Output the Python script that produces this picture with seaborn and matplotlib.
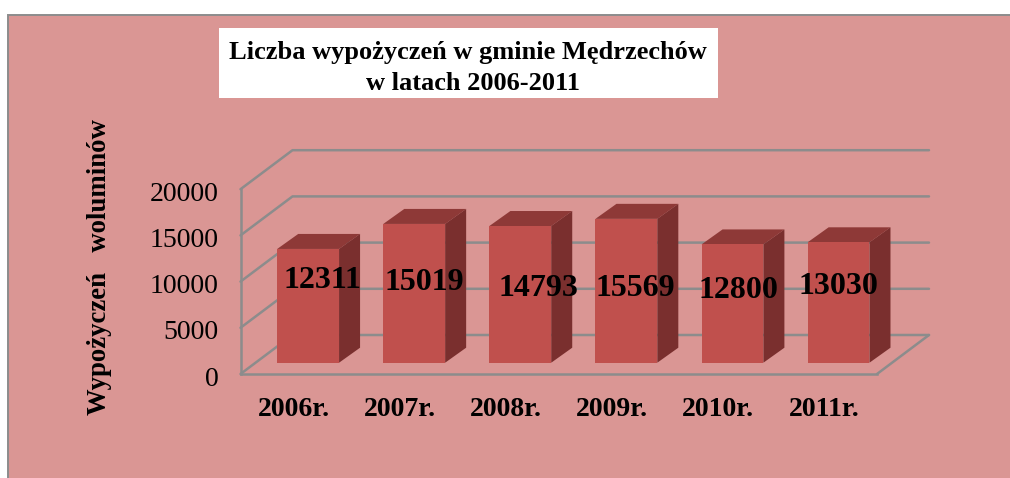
import matplotlib
matplotlib.use("Agg")
import matplotlib.pyplot as plt
import pandas as pd
import seaborn as sns
from matplotlib.lines import Line2D
from matplotlib.patches import Polygon, Rectangle
from matplotlib.transforms import Affine2D, IdentityTransform

# data
years = ["2006r.", "2007r.", "2008r.", "2009r.", "2010r.", "2011r."]
loans = [12311, 15019, 14793, 15569, 12800, 13030]
y_ticks = [0, 5000, 10000, 15000, 20000]
title_lines = ["Liczba wypożyczeń w gminie Mędrzechów", "w latach 2006-2011"]
y_label = "Wypożyczeń   woluminów"

# layout (pixels)
W, H = 1010, 478
BG, FRONT, TOP, SIDE, GRID = "#DA9694", "#C0504D", "#8E3937", "#7A2F2E", "#8C8C8C"
WALL_DX, WALL_DY = 52, 39
BAR_DX, BAR_DY = 14.6, 11.3
DEPTH_DX, DEPTH_DY = 21, 15
LABEL_PIX = [(322, 280), (424, 283), (538, 288), (635, 288), (738, 290), (838, 287)]
TITLE_PIX = [(468, 52), (473, 83)]

sns.set_theme(style="white")
plt.rcParams["font.family"] = ["Liberation Serif", "DejaVu Serif"]

fig = plt.figure(figsize=(W / 100, H / 100), dpi=100, facecolor="white")
fx = lambda x: x / W
fy = lambda y: 1 - y / H

fig.add_artist(Rectangle((fx(8), -0.05), 1.1, fy(14.5) + 0.05, transform=fig.transFigure,
                         facecolor=BG, edgecolor=GRID, linewidth=1.4, zorder=-5))
fig.add_artist(Rectangle((fx(219), fy(98)), fx(499), fy(28) - fy(98), transform=fig.transFigure,
                         facecolor="white", edgecolor="none", zorder=-4))
for line, (px, py) in zip(title_lines, TITLE_PIX):
    fig.text(fx(px), fy(py), line, ha="center", va="center", fontsize=19,
             fontweight="bold", color="black")

ax = fig.add_axes([fx(240.5), fy(374), fx(636.5), fy(189.2) - fy(374)])
ax.patch.set_alpha(0)

df = pd.DataFrame({"year": years, "loans": loans})
sns.barplot(data=df, x="year", y="loans", color=FRONT, saturation=1, width=0.583, ax=ax, zorder=5)
ax.set_xlim(-0.5, 5.5)
ax.set_ylim(0, 20000)
ax.set_yticks(y_ticks)
ax.set_xlabel("")
ax.set_ylabel(y_label, fontsize=19.3, fontweight="bold", color="black", labelpad=0)
ax.yaxis.set_label_coords(fx(112), fy(267), transform=fig.transFigure)
ax.tick_params(axis="y", length=0, pad=16, labelsize=20, labelcolor="black")
ax.tick_params(axis="x", length=0, pad=16.5, labelsize=20, labelcolor="black")
for t in ax.get_xticklabels():
    t.set_fontweight("bold")
for t in ax.get_yticklabels():
    t.set_transform(t.get_transform() + Affine2D().translate(0, -2))
for s in ("top", "right"):
    ax.spines[s].set_visible(False)
for s in ("left", "bottom"):
    ax.spines[s].set_color(GRID)
    ax.spines[s].set_linewidth(1.8)

fig.canvas.draw()
ident = IdentityTransform()

# back wall and floor, projected from the axis scales
x_left, x_right = ax.get_xlim()
for v in y_ticks:
    bx, by = ax.transData.transform((x_left, v))
    ex, _ = ax.transData.transform((x_right, v))
    ax.add_line(Line2D([bx, bx + WALL_DX, ex + WALL_DX], [by, by + WALL_DY, by + WALL_DY],
                       transform=ident, color=GRID, lw=1.8, clip_on=False, zorder=1,
                       solid_joinstyle="round"))
fx0, fy0 = ax.transData.transform((x_right, 0))
ax.add_line(Line2D([fx0, fx0 + WALL_DX], [fy0, fy0 + WALL_DY], transform=ident,
                   color=GRID, lw=1.8, clip_on=False, zorder=1))

# bars: seaborn front faces shifted into the floor, with top and side faces
shift = ax.transData + Affine2D().translate(BAR_DX, BAR_DY)
for bar in ax.containers[0]:
    bar.set_transform(shift)
    bar.set_clip_on(False)
    bar.set_edgecolor("none")
    x0, x1 = bar.get_x(), bar.get_x() + bar.get_width()
    (ax0, ay0), (ax1, ay1) = shift.transform([(x0, 0), (x1, bar.get_height())])
    top = [(ax0, ay1), (ax1, ay1), (ax1 + DEPTH_DX, ay1 + DEPTH_DY), (ax0 + DEPTH_DX, ay1 + DEPTH_DY)]
    side = [(ax1, ay0), (ax1, ay1), (ax1 + DEPTH_DX, ay1 + DEPTH_DY), (ax1 + DEPTH_DX, ay0 + DEPTH_DY)]
    ax.add_patch(Polygon(top, closed=True, transform=ident, facecolor=TOP, edgecolor="none",
                         clip_on=False, zorder=4))
    ax.add_patch(Polygon(side, closed=True, transform=ident, facecolor=SIDE, edgecolor="none",
                         clip_on=False, zorder=4))

# hand-placed value labels, as in the reference
for value, (px, py) in zip(loans, LABEL_PIX):
    fig.text(fx(px), fy(py), str(value), ha="center", va="center", fontsize=23,
             fontweight="bold", color="black", zorder=10)

fig.savefig("out.png", dpi=100, facecolor="white")
